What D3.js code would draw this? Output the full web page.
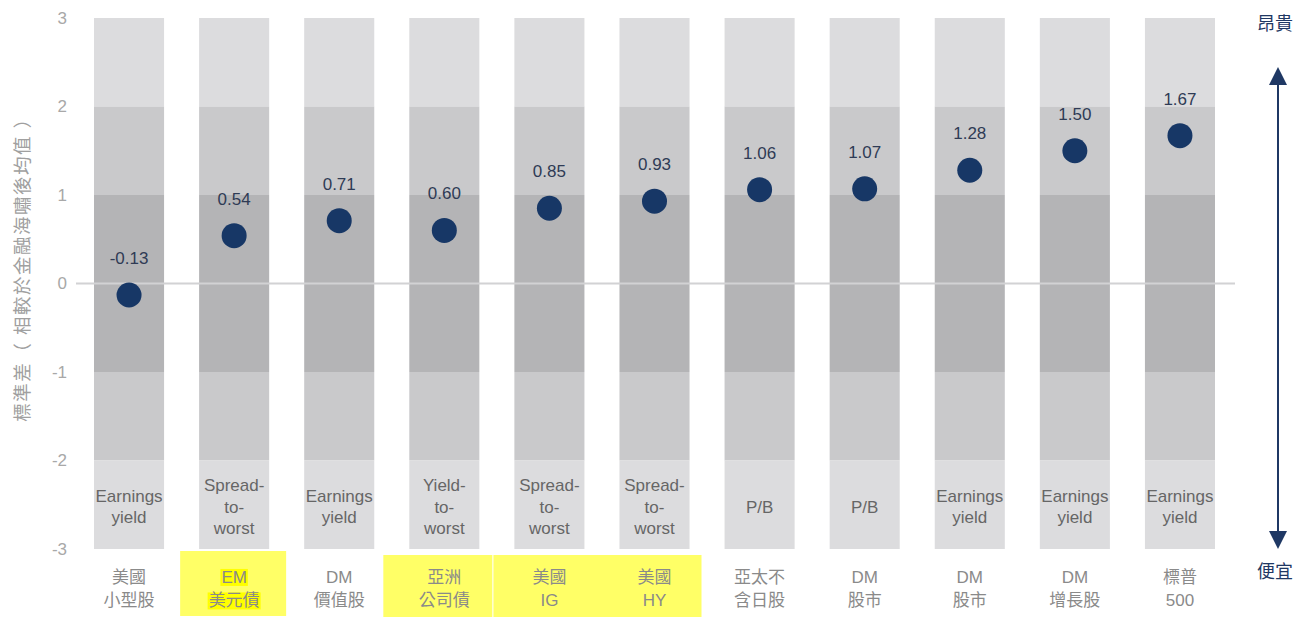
<!DOCTYPE html>
<html><head><meta charset="utf-8">
<script src="https://cdn.jsdelivr.net/npm/d3@7"></script>
<style>
body{margin:0;background:#fff;}
text{font-family:"Liberation Sans","Noto Sans CJK TC",sans-serif;}
</style></head>
<body><svg id="c" width="1296" height="617"></svg>
<script>
const categories = [["美國","小型股"],["EM","美元債"],["DM","價值股"],["亞洲","公司債"],["美國","IG"],["美國","HY"],["亞太不","含日股"],["DM","股市"],["DM","股市"],["DM","增長股"],["標普","500"]];
const values = [-0.13,0.54,0.71,0.60,0.85,0.93,1.06,1.07,1.28,1.50,1.67];
const metrics = [["Earnings","yield"],["Spread-","to-","worst"],["Earnings","yield"],["Yield-","to-","worst"],["Spread-","to-","worst"],["Spread-","to-","worst"],["P/B"],["P/B"],["Earnings","yield"],["Earnings","yield"],["Earnings","yield"]];
const yTicks = [3,2,1,0,-1,-2,-3];
const bands = [[2,3],[1,2],[-1,1],[-2,-1],[-3,-2]];
const bandColors = ["#dcdcde","#c9c9cb","#b4b4b6","#c9c9cb","#dcdcde"];
const highlights = [[1,1],[3,3],[4,5]];
const textHighlight = [1];
const yTitle = "標準差（ 相較於金融海嘯後均值 ）";

const svg = d3.select("#c");
const x = d3.scaleBand().domain(d3.range(categories.length)).range([76.5,1232.5]).paddingInner(1/3).paddingOuter(1/6);
const y = d3.scaleLinear().domain([-3,3]).range([549,18]);
const bw = x.bandwidth();
const cx = i=>x(i)+bw/2;
const fmt = v => d3.format(".2f")(v).replace("−","-");

// highlight boxes
const hlPad = {1:[54,52],3:[61,48],4:[56,47]};
svg.append("g").selectAll("rect").data(highlights).join("rect")
  .attr("x",d=>cx(d[0])-hlPad[d[0]][0])
  .attr("width",d=>cx(d[1])+hlPad[d[0]][1]-(cx(d[0])-hlPad[d[0]][0]))
  .attr("y",d=>d[0]===1?551:555).attr("height",d=>d[0]===1?65:62)
  .attr("fill","#ffff66");

// bands
const gb = svg.append("g");
categories.forEach((c,i)=>{
  gb.selectAll(null).data(bands).join("rect")
    .attr("x",x(i)).attr("width",bw)
    .attr("y",d=>y(d[1])).attr("height",d=>y(d[0])-y(d[1]))
    .attr("fill",(d,j)=>bandColors[j]);
});

// zero line
svg.append("line").attr("x1",76).attr("x2",1235).attr("y1",y(0)).attr("y2",y(0))
  .attr("stroke","#d2d2d4").attr("stroke-width",2);

// y axis
const ya = svg.append("g").attr("transform","translate(67,0)")
  .call(d3.axisLeft(y).tickValues(yTicks).tickSize(0).tickPadding(0).tickFormat(d=>String(d)));
ya.select(".domain").remove();
ya.selectAll("text").attr("fill","#a8a8a8").style("font-size","17px").attr("font-family","Liberation Sans, sans-serif");

svg.append("text").attr("transform",`translate(23,${265}) rotate(-90)`)
  .attr("text-anchor","middle").attr("dy","0.35em").attr("fill","#a0a0a0")
  .style("font-size","18.5px").style("letter-spacing","1.5px").text(yTitle);

// metric labels in bottom band
categories.forEach((c,i)=>{
  const lines = metrics[i];
  const cy = y(-2.5)+2, lh = 21.5;
  const t = svg.append("text").attr("text-anchor","middle").attr("fill","#666").style("font-size","17px");
  lines.forEach((l,k)=>{
    t.append("tspan").attr("x",cx(i)).attr("y",cy+(k-(lines.length-1)/2)*lh).attr("dy","0.35em").text(l);
  });
});

// dots & value labels
svg.append("g").selectAll("circle").data(values).join("circle")
  .attr("cx",(d,i)=>cx(i)).attr("cy",d=>y(d)).attr("r",12.5).attr("fill","#173766");
svg.append("g").selectAll("text").data(values).join("text")
  .attr("x",(d,i)=>cx(i)).attr("y",d=>y(d)-31).attr("text-anchor","middle")
  .attr("fill","#2f3b55").style("font-size","17px").text(d=>fmt(d));

// category labels
const gl = svg.append("g");
categories.forEach((c,i)=>{
  c.forEach((l,k)=>{
    const t = gl.append("text").attr("text-anchor","middle").attr("fill","#8a8a8a").style("font-size","17px")
      .attr("x",cx(i)).attr("y",577+k*23.5).attr("dy","0.35em").text(l);
    if(textHighlight.includes(i)){
      const b = t.node().getBBox();
      gl.insert("rect","text").attr("x",b.x-1).attr("y",b.y+1).attr("width",b.width+2).attr("height",b.height-2).attr("fill","#ffff00");
    }
  });
});

// right arrow
const defs = svg.append("defs");
defs.append("marker").attr("id","ah").attr("viewBox","0 0 10 10").attr("refX",5).attr("refY",5)
  .attr("orient","auto-start-reverse").attr("markerUnits","userSpaceOnUse")
  .attr("markerWidth",18).attr("markerHeight",20)
  .append("path").attr("d","M0,0 L10,5 L0,10 Z").attr("fill","#1f3864");
svg.append("line").attr("x1",1278).attr("x2",1278).attr("y1",76).attr("y2",540)
  .attr("stroke","#1f3864").attr("stroke-width",2)
  .attr("marker-start","url(#ah)").attr("marker-end","url(#ah)");
svg.append("text").attr("x",1275).attr("y",24).attr("dy","0.35em").attr("text-anchor","middle")
  .attr("fill","#1f3864").style("font-size","18px").text("昂貴");
svg.append("text").attr("x",1275).attr("y",572).attr("dy","0.35em").attr("text-anchor","middle")
  .attr("fill","#1f3864").style("font-size","18px").text("便宜");
</script></body></html>
